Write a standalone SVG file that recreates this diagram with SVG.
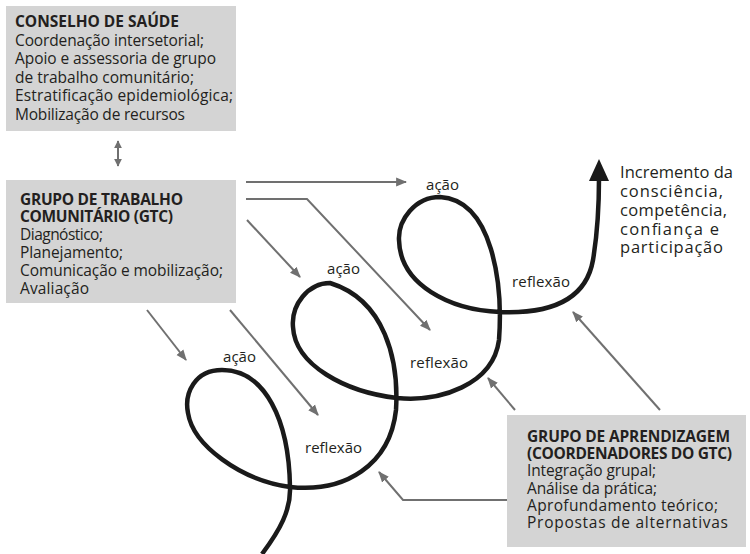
<svg xmlns="http://www.w3.org/2000/svg" width="750" height="554" viewBox="0 0 750 554">
<style>
.box{fill:#d4d4d4;}
.t{font-family:"Open Sans","Noto Sans",sans-serif;font-size:15.5px;fill:#231f20;}
.b{font-weight:bold;}
.lbl{font-family:"Open Sans","Noto Sans",sans-serif;font-size:15px;fill:#231f20;}
.con{fill:none;stroke:#707070;stroke-width:2;}
.spiral{fill:none;stroke:#1a1a1a;stroke-width:4.5;stroke-linecap:butt;}
</style>
<defs>
<marker id="ah" viewBox="0 0 10 10" refX="9" refY="5" markerWidth="8" markerHeight="8" orient="auto-start-reverse" markerUnits="userSpaceOnUse">
<path d="M0,0 L10,5 L0,10 z" fill="#707070"/>
</marker>
<marker id="ahs" viewBox="0 0 10 10" refX="9" refY="5" markerWidth="11" markerHeight="11" orient="auto-start-reverse" markerUnits="userSpaceOnUse">
<path d="M0,1 L10,5 L0,9 z" fill="#707070"/>
</marker>
</defs>
<g id="conselho">
<rect class="box" x="6" y="6" width="230" height="125"/>
<text class="t"><tspan class="b" x="15" y="27" textLength="164">CONSELHO DE SAÚDE</tspan><tspan x="15" y="45.5" textLength="189">Coordenação intersetorial;</tspan><tspan x="15" y="64" textLength="201">Apoio e assessoria de grupo</tspan><tspan x="15" y="82.5" textLength="179">de trabalho comunitário;</tspan><tspan x="15" y="101" textLength="218">Estratificação epidemiológica;</tspan><tspan x="15" y="119.5" textLength="170">Mobilização de recursos</tspan></text>
</g>
<g id="gtc">
<rect class="box" x="6" y="180" width="230" height="123"/>
<text class="t"><tspan class="b" x="20" y="205" textLength="163">GRUPO DE TRABALHO</tspan><tspan class="b" x="20" y="222" textLength="153">COMUNITÁRIO (GTC)</tspan><tspan x="20" y="239.5" textLength="83">Diagnóstico;</tspan><tspan x="20" y="257.5" textLength="103">Planejamento;</tspan><tspan x="20" y="275.5" textLength="203">Comunicação e mobilização;</tspan><tspan x="20" y="293.5" textLength="69">Avaliação</tspan></text>
</g>
<g id="aprendizagem">
<rect class="box" x="507" y="415" width="239" height="132"/>
<text class="t"><tspan class="b" x="527" y="441.5" textLength="203">GRUPO DE APRENDIZAGEM</tspan><tspan class="b" x="527" y="458.5" textLength="205">(COORDENADORES DO GTC)</tspan><tspan x="527" y="476" textLength="129">Integração grupal;</tspan><tspan x="527" y="493.5" textLength="130">Análise da prática;</tspan><tspan x="527" y="510.5" textLength="191">Aprofundamento teórico;</tspan><tspan x="527" y="528" textLength="201">Propostas de alternativas</tspan></text>
</g>
<g id="incremento">
<text class="t" style="font-size:16.5px"><tspan x="620" y="177.5" textLength="113">Incremento da</tspan><tspan x="620" y="196.5" textLength="103">consciência,</tspan><tspan x="620" y="215.5" textLength="107">competência,</tspan><tspan x="620" y="234.5" textLength="99">confiança e</tspan><tspan x="620" y="253" textLength="103">participação</tspan></text>
</g>
<g id="spiral">
<path class="spiral" d="M262 554 C280 530 291 510 290 487 C289 420 265 370 222 370 C195 370 184 393 188 413 C193 445 240 480 290 487 C345 493 390 465 396 410 C399 360 385 300 330 283 C308 283 291 305 293 327 C295 365 345 392 397 398 C440 402 493 385 499 340 C503 285 493 200 440 197 C415 197 398 220 399 240 C400 285 450 310 500 312 C550 314 586 300 593 260 C598 230 599 205 599 178"/>
<polygon points="599,159 609,181 589,181" fill="#1a1a1a"/>
<text class="lbl" x="223" y="362" textLength="33">ação</text>
<text class="lbl" x="327" y="274" textLength="33">ação</text>
<text class="lbl" x="426" y="190" textLength="33">ação</text>
<text class="lbl" x="305" y="453" textLength="57">reflexão</text>
<text class="lbl" x="410" y="368" textLength="58">reflexão</text>
<text class="lbl" x="512" y="287" textLength="58">reflexão</text>
</g>
<g id="connectors">
<line class="con" x1="118" y1="141" x2="118" y2="166" marker-start="url(#ah)" marker-end="url(#ah)"/>
<line class="con" x1="246" y1="182" x2="406" y2="182" marker-end="url(#ahs)"/>
<polyline class="con" points="246,199 307,199 430,330" marker-end="url(#ahs)"/>
<line class="con" x1="247" y1="220" x2="300" y2="277" marker-end="url(#ahs)"/>
<line class="con" x1="147" y1="310" x2="186" y2="360" marker-end="url(#ahs)"/>
<line class="con" x1="230" y1="310" x2="318" y2="415" marker-end="url(#ahs)"/>
<polyline class="con" points="507,500 403,500 379,472" marker-end="url(#ahs)"/>
<line class="con" x1="515" y1="410" x2="488" y2="378" marker-end="url(#ahs)"/>
<line class="con" x1="660" y1="410" x2="573" y2="312" marker-end="url(#ahs)"/>
</g>
</svg>
